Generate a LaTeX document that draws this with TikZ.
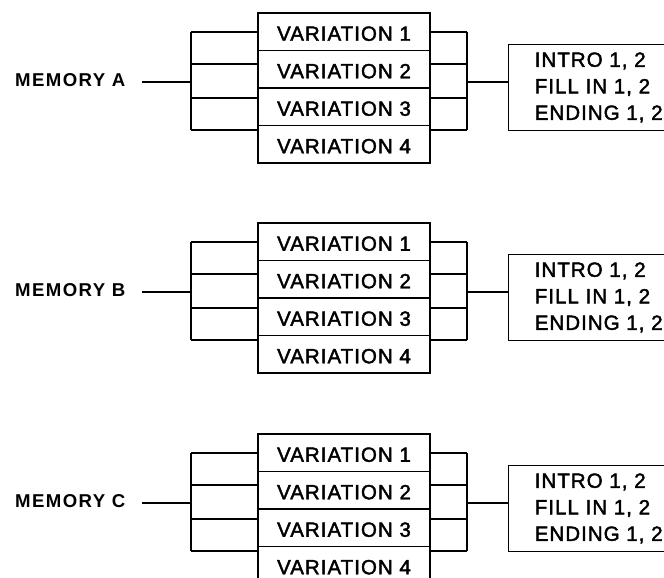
\documentclass[tikz,border=0pt]{standalone}
\usepackage{fontspec}
\setmainfont{Liberation Sans}
\newfontfamily\varfont[LetterSpace=5,FakeBold=2]{Liberation Sans}
\newfontfamily\memfont[LetterSpace=7.6]{Liberation Sans}
\usetikzlibrary{positioning}

\begin{document}
\begin{tikzpicture}[x=1pt,y=-1pt,
          wire/.style={line width=1.4pt},
          varrow/.style={draw,line width=1.4pt,minimum width=172pt,minimum height=37.5pt,inner sep=0pt,
            text height=18pt,text depth=0pt,font={\varfont\fontsize{20.5}{24}\selectfont}},
          memlabel/.style={inner sep=0pt,font={\memfont\bfseries\fontsize{18.6}{21}\selectfont}},
          pattbox/.style={draw,line width=1.4pt,minimum width=180pt,minimum height=85.5pt,inner xsep=9pt,
            inner ysep=0pt,align=left,font={\varfont\fontsize{20.5}{26.5}\selectfont}},
        ]
        \useasboundingbox (0,0) rectangle (664,578);
        \foreach \m/\dy in {A/0,B/210,C/421} {
          \begin{scope}[yshift=-\dy pt]
            \node[memlabel,anchor=west] (mem\m) at (15,80.5) {MEMORY \m};
            \foreach \i in {1,...,4}
              \node[varrow] (var\m\i) at (344,{13+37.5*(\i-0.5)}) {VARIATION \i};
            \node[pattbox,anchor=north west] (patt\m) at (508,44) {INTRO 1, 2\\FILL IN 1, 2\\ENDING 1, 2};
            \coordinate (jl\m) at (191,82);
            \coordinate (jr\m) at (467,82);
            \foreach \yy in {32,64,98,130}
              \draw[wire] (jl\m |- 0,\yy) -- (var\m1.west |- 0,\yy)
                          (var\m1.east |- 0,\yy) -- (jr\m |- 0,\yy);
            \draw[wire] (jl\m |- 0,32) -- (jl\m |- 0,130);
            \draw[wire] (jr\m |- 0,32) -- (jr\m |- 0,130);
            \draw[wire,shorten <=17pt] (mem\m.east |- jl\m) -- (jl\m);
            \draw[wire] (jr\m) -- (patt\m.west |- jr\m);
          \end{scope}
        }
      \end{tikzpicture}
\end{document}
